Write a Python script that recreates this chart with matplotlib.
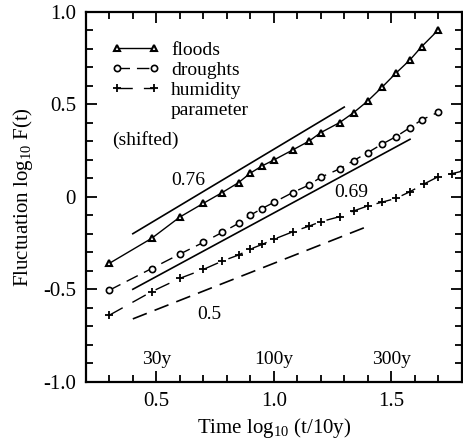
import matplotlib
matplotlib.use("Agg")
import matplotlib.pyplot as plt

# ---------------------------
# Data
# ---------------------------
log_t = [0.30, 0.48, 0.60, 0.70, 0.78, 0.85, 0.90, 0.95, 1.00, 1.08,
         1.15, 1.20, 1.28, 1.34, 1.40, 1.46, 1.52, 1.58, 1.63, 1.70]
floods = [-0.36, -0.225, -0.11, -0.036, 0.022, 0.076, 0.127, 0.166, 0.198, 0.252,
          0.30, 0.346, 0.40, 0.454, 0.517, 0.59, 0.667, 0.739, 0.811, 0.90]
droughts = [-0.505, -0.388, -0.31, -0.247, -0.193, -0.144, -0.10, -0.064, -0.031, 0.022,
            0.063, 0.105, 0.15, 0.195, 0.238, 0.283, 0.324, 0.373, 0.415, 0.456]

log_t_hum = [0.30, 0.48, 0.60, 0.70, 0.78, 0.85, 0.90, 0.95, 1.00, 1.08, 1.15,
             1.20, 1.28, 1.34, 1.40, 1.46, 1.52, 1.58, 1.64, 1.70, 1.76, 1.81]
humidity = [-0.64, -0.513, -0.441, -0.393, -0.348, -0.315, -0.283, -0.258, -0.23, -0.19, -0.159,
            -0.135, -0.108, -0.077, -0.05, -0.03, -0.009, 0.027, 0.069, 0.108, 0.125, 0.14]

# slope guide lines (end points)
guide_076_x = [0.40, 1.30]
guide_076_y = [-0.20, 0.484]
guide_069_x = [0.40, 1.58]
guide_069_y = [-0.50, 0.31]
guide_050_x = [0.40, 1.40]
guide_050_y = [-0.66, -0.16]

time_marks = [0.5, 1.0, 1.5]
time_labels = ["30y", "100y", "300y"]

# ---------------------------
# Style
# ---------------------------
plt.rcParams["font.family"] = ["Liberation Serif", "DejaVu Serif"]
plt.rcParams["mathtext.default"] = "regular"
plt.rcParams["font.size"] = 15

fig = plt.figure(figsize=(4.64, 4.43), dpi=100)
ax = fig.add_axes([0.185, 0.138, 0.81, 0.836])

ax.plot(log_t, floods, color="black", lw=1.0, marker="^", ms=4.5,
        mfc="white", mec="black", mew=1.5, label="floods")
ax.plot(log_t, droughts, color="black", lw=1.0, marker="o", ms=4.5,
        mfc="white", mec="black", mew=1.2, dashes=(9, 5), label="droughts")
ax.plot(log_t_hum, humidity, color="black", lw=1.0, marker="+", ms=6,
        mew=1.3, dashes=(11, 8), label="humidity")
ax.plot([], [], " ", label="parameter")

ax.plot(guide_076_x, guide_076_y, color="black", lw=1.2)
ax.plot(guide_069_x, guide_069_y, color="black", lw=1.2)
ax.plot(guide_050_x, guide_050_y, color="black", lw=1.2, dashes=(9, 5))

ax.text(0.636, 0.09, "0.76", ha="center", va="center", fontsize=14)
ax.text(1.33, 0.02, "0.69", ha="center", va="center", fontsize=14)
ax.text(0.724, -0.635, "0.5", ha="center", va="center", fontsize=14)
ax.text(0.312, 0.306, "(shifted)", ha="left", va="center", fontsize=14)
for xm, lab in zip(time_marks, time_labels):
    ax.text(xm, -0.88, lab, ha="center", va="center", fontsize=14)

leg = ax.legend(loc="upper left", bbox_to_anchor=(0.048, 0.94), frameon=False,
                numpoints=2, handlelength=2.5, handletextpad=0.55,
                labelspacing=0.12, fontsize=14, borderaxespad=0.0)

ax.set_xlim(0.2, 1.8)
ax.set_ylim(-1.0, 1.0)
ax.set_xticks([0.5, 1.0, 1.5])
ax.set_xticklabels(["0.5", "1.0", "1.5"])
ax.set_yticks([-1.0, -0.5, 0.0, 0.5, 1.0])
ax.set_yticklabels(["-1.0", "-0.5", "0", "0.5", "1.0"])
ax.set_xticks([v / 10 for v in range(3, 18)], minor=True)
ax.set_yticks([v / 10 for v in range(-9, 10)], minor=True)
ax.tick_params(which="both", direction="in", top=True, right=True, width=1.3)
ax.tick_params(which="major", length=8, pad=7)
ax.tick_params(which="minor", length=5)
for sp in ax.spines.values():
    sp.set_linewidth(1.6)

ax.set_xlabel("Time log$_{10}$ (t/10y)", labelpad=4)
ax.set_ylabel("Fluctuation log$_{10}$ F(t)", labelpad=6)

fig.savefig("out.png", dpi=100)
